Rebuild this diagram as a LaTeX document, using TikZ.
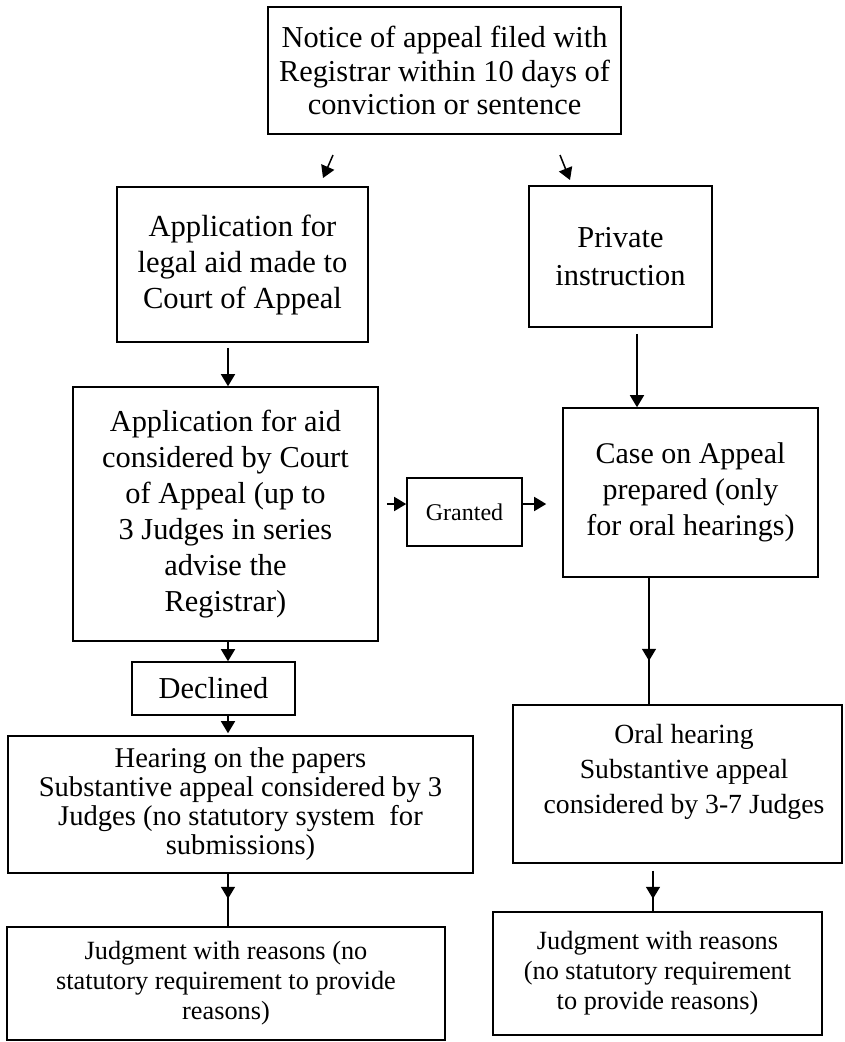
\documentclass[tikz,border=0pt]{standalone}
\usepackage{fontspec}
\setmainfont{Liberation Serif}
\usetikzlibrary{arrows.meta,calc}
\begin{document}
\begin{tikzpicture}[x=1pt,y=-1pt,
  box/.style={draw,line width=1.6pt,rectangle,inner sep=0pt,align=center},
  txt/.style={align=center,inner sep=0pt},
  arr/.style={line width=1.5pt,-{Triangle[length=12pt,width=14pt]}},
  ln/.style={line width=1.5pt}]
\useasboundingbox (0,0) rectangle (845,1042);

% boxes
\node[box,minimum width=353pt,minimum height=127pt,font=\fontsize{30.4}{33.5}\selectfont] (notice) at (444.5,70.5)
  {Notice of appeal filed with\\Registrar within 10 days of\\conviction or sentence};
\node[box,minimum width=251pt,minimum height=155pt,font=\fontsize{30.6}{36}\selectfont] (legal) at (242.5,264.5)
  {Application for\\legal aid made to\\Court of Appeal};
\node[box,minimum width=183pt,minimum height=141pt,font=\fontsize{30.4}{38}\selectfont] (private) at (620.5,256.5)
  {Private\\instruction};
\node[box,minimum width=305pt,minimum height=254pt,font=\fontsize{30.4}{36}\selectfont] (aidc) at (225.5,514)
  {Application for aid\\considered by Court\\of Appeal (up to\\3 Judges in series\\advise the\\Registrar)};
\node[box,minimum width=115pt,minimum height=68pt,font=\fontsize{24}{28}\selectfont] (granted) at (464.5,512)
  {Granted};
\node[box,minimum width=255pt,minimum height=169pt,font=\fontsize{30}{36}\selectfont] (case) at (690.5,492.5)
  {Case on Appeal\\prepared (only\\for oral hearings)};
\node[box,minimum width=163pt,minimum height=53pt,font=\fontsize{30.4}{34}\selectfont] (declined) at (213.5,688.5)
  {Declined};
\node[box,minimum width=465pt,minimum height=137pt,font=\fontsize{28.6}{29}\selectfont] (hearing) at (240.5,804.5)
  {Hearing on the papers\\Substantive appeal considered by 3\\Judges (no statutory system\ \ for\\submissions)};
\node[box,minimum width=329pt,minimum height=158pt] (oral) at (677.5,784) {};
\node[txt,font=\fontsize{27.7}{35}\selectfont] (oraltext) at (684,772)
  {Oral hearing\\Substantive appeal\\considered by 3-7 Judges};
\node[box,minimum width=438pt,minimum height=113pt,font=\fontsize{26.3}{30}\selectfont] (judg1) at (226,983.5)
  {Judgment with reasons (no\\statutory requirement to provide\\reasons)};
\node[box,minimum width=329pt,minimum height=123pt,font=\fontsize{26.3}{30}\selectfont] (judg2) at (657.5,973.5)
  {Judgment with reasons\\(no statutory requirement\\to provide reasons)};

% column coordinates
\coordinate (cL) at (228,0);
\coordinate (cR) at (637,0);
\coordinate (cR2) at (649,0);
\coordinate (cR3) at (653,0);
\coordinate (rowG) at (0,504);

% top free arrows
\coordinate (tl1) at (333,155);
\coordinate (tl2) at (323,178);
\coordinate (tr1) at (560,155);
\coordinate (tr2) at (570,180);
\draw[arr] (tl1) -- (tl2);
\draw[arr] (tr1) -- (tr2);

% connectors
\draw[arr,shorten <=5pt] (legal.south -| cL) -- (aidc.north -| cL);
\draw[arr,shorten <=6pt] (private.south -| cR) -- (case.north -| cR);
\draw[arr,shorten <=8pt] (aidc.east |- rowG) -- (granted.west |- rowG);
\draw[arr,shorten >=16pt] (granted.east |- rowG) -- (case.west |- rowG);
\draw[arr] (aidc.south -| cL) -- (declined.north -| cL);
\draw[arr,shorten >=2pt] (declined.south -| cL) -- (hearing.north -| cL);

\draw[ln] (case.south -| cR2) -- (oral.north -| cR2);
\draw[arr] (case.south -| cR2) -- ($(case.south -| cR2)+(0,83)$);

\draw[ln] (hearing.south -| cL) -- (judg1.north -| cL);
\draw[arr] (hearing.south -| cL) -- ($(hearing.south -| cL)+(0,25)$);

\draw[ln] ($(oral.south -| cR3)+(0,7)$) -- (judg2.north -| cR3);
\draw[arr] ($(oral.south -| cR3)+(0,7)$) -- ($(oral.south -| cR3)+(0,35)$);
\end{tikzpicture}
\end{document}
